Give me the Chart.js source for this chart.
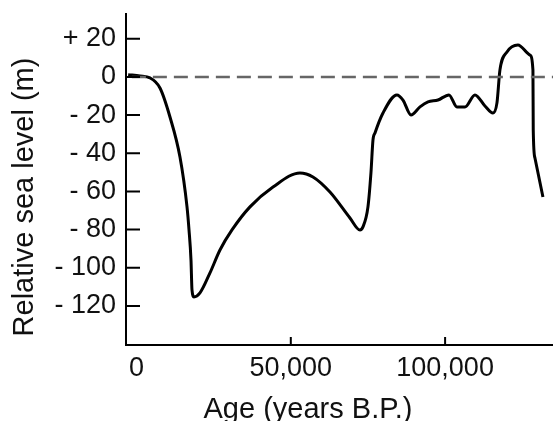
<!DOCTYPE html>
<html lang="en">
<head>
  <meta charset="UTF-8">
  <title>Relative sea level</title>
  <script src="https://cdn.jsdelivr.net/npm/chart.js"></script>
  <style>
    body { margin: 0; background: #fff; }
    #wrap { width: 553px; height: 421px; }
  </style>
</head>
<body>
  <div id="wrap"><canvas id="seaChart"></canvas></div>

  <script>
    // age in years B.P., sea level in metres
    const ages = [-2700, 1130, 4370, 7610, 10850, 14090, 16360, 17010, 17660, 17980,
      18630, 20570, 23810, 27050, 30940, 36770, 44230, 52970, 57180, 62690,
      69170, 72410, 73380, 75000, 75970, 76630, 77280, 79870, 84400, 86350,
      88940, 91860, 94450, 97690, 101250, 103840, 106430, 109670, 112910, 115500,
      116800, 117770, 120040, 123600, 127490, 128460, 128560, 129110, 131700];
    const levels = [1.2, 0.5, -0.5, -5.8, -21, -42, -68, -80, -96, -111.6,
      -115.3, -113.2, -102.7, -90.7, -80.2, -68.1, -57.7, -50.3, -52.4, -60.3,
      -73.9, -80.2, -78.6, -68.1, -50.3, -33, -29.4, -18.9, -9.4, -12.1,
      -19.9, -15.7, -13.1, -12.1, -9.4, -15.7, -15.7, -9.4, -15.2, -18.9,
      -13.6, 3.7, 13.1, 16.8, 11.5, 3.7, -27.8, -42.5, -62.9];
    const xTicks = [0, 50000, 100000];
    const yTicks = [20, 0, -20, -40, -60, -80, -100, -120];
    const presentLevel = 0;

    const font = '"Liberation Sans", Arial, sans-serif';

    const extras = {
      id: 'extras',
      afterDraw(chart) {
        const { ctx, chartArea, scales: { x, y } } = chart;
        ctx.save();
        ctx.strokeStyle = '#000';
        ctx.lineWidth = 2;
        ctx.beginPath();
        y.ticks.forEach(t => {
          const py = y.getPixelForValue(t.value);
          ctx.moveTo(chartArea.left, py);
          ctx.lineTo(chartArea.left + 14, py);
        });
        x.ticks.forEach(t => {
          if (t.value === 0) return;
          const px = x.getPixelForValue(t.value);
          ctx.moveTo(px, chartArea.bottom);
          ctx.lineTo(px, chartArea.bottom - 8);
        });
        ctx.stroke();

        ctx.fillStyle = '#111';
        ctx.font = '29px ' + font;
        ctx.textAlign = 'center';
        ctx.textBaseline = 'alphabetic';
        ctx.fillText('Age (years B.P.)', 308, 418);
        ctx.translate(33, 197);
        ctx.rotate(-Math.PI / 2);
        ctx.fillText('Relative sea level (m)', 0, 0);
        ctx.restore();
      }
    };

    const ctx = document.getElementById('seaChart').getContext('2d');
    const seaChart = new Chart(ctx, {
      type: 'scatter',
      data: {
        datasets: [{
          label: 'present',
          data: [{ x: -1500, y: presentLevel }, { x: 140000, y: presentLevel }],
          showLine: true,
          borderColor: '#666',
          borderWidth: 2.5,
          borderDash: [14, 7],
          pointRadius: 0,
        }, {
          label: 'sea level',
          data: ages.map((a, i) => ({ x: a, y: levels[i] })),
          showLine: true,
          borderColor: '#000',
          borderWidth: 3,
          cubicInterpolationMode: 'monotone',
          pointRadius: 0,
        }],
      },
      options: {
        responsive: true,
        maintainAspectRatio: false,
        animation: false,
        layout: { padding: { top: 14, right: 0, left: 0, bottom: 0 } },
        plugins: { legend: { display: false }, tooltip: { enabled: false } },
        scales: {
          x: {
            type: 'linear',
            min: -3400,
            max: 134960,
            afterBuildTicks: s => { s.ticks = xTicks.map(v => ({ value: v })); },
            afterFit: s => { s.height = 76; s.paddingLeft = 0; s.paddingRight = 0; },
            grid: { display: false, drawTicks: false },
            border: { color: '#000', width: 2 },
            ticks: {
              padding: 7,
              color: '#111',
              font: { family: font, size: 27 },
              maxRotation: 0,
              callback: v => v.toLocaleString('en-US'),
            },
          },
          y: {
            min: -140.5,
            max: 33,
            afterBuildTicks: s => { s.ticks = yTicks.map(v => ({ value: v })); },
            afterFit: s => { s.width = 126; s.paddingTop = 0; s.paddingBottom = 0; },
            grid: { display: false, drawTicks: false },
            border: { color: '#000', width: 2 },
            ticks: {
              padding: 10,
              color: '#111',
              font: { family: font, size: 27 },
              callback: v => v > 0 ? '+ ' + v : (v < 0 ? '- ' + Math.abs(v) : '0'),
            },
          },
        },
      },
      plugins: [extras],
    });
  </script>
</body>
</html>
